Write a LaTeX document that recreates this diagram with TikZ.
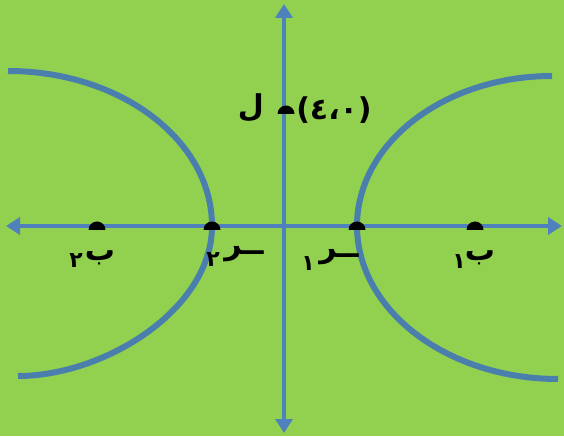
\documentclass[tikz,border=0pt]{standalone}
\usepackage{fontspec}
\newfontfamily\arabicfont[Script=Arabic]{DejaVu Sans}
\TeXXeTstate=1
\usetikzlibrary{arrows.meta,calc}
\definecolor{bggreen}{HTML}{92D050}
\definecolor{axisblue}{HTML}{4F81BD}
\definecolor{curveblue}{HTML}{4A7FAD}
\tikzset{
  axisline/.style={draw=axisblue,line width=4.5pt,-{Triangle[length=14pt,width=17pt]}},
  branch/.style={draw=curveblue,line width=6pt},
  dome/.style={fill=black},
  lbl/.style={font=\arabicfont\bfseries\fontsize{30}{32}\selectfont,text=black,inner sep=0pt},
  sub/.style={font=\arabicfont\bfseries\fontsize{22}{24}\selectfont,text=black,inner sep=0pt}
}
\begin{document}
\begin{tikzpicture}[x=1pt,y=1pt]
\fill[bggreen] (0,0) rectangle (564,436);
\useasboundingbox (0,0) rectangle (564,436);
% axis ends
\coordinate (O) at (284,210);
\coordinate (xl) at (6,210);
\coordinate (xr) at (562,210);
\coordinate (yt) at (284,432);
\coordinate (yb) at (284,3);
% points
\coordinate (F2) at (97,210);
\coordinate (V2) at (212,210);
\coordinate (V1) at (357,210);
\coordinate (F1) at (475,210);
\coordinate (L) at (286,326);
% branch ends
\coordinate (A1) at (8,365);
\coordinate (A2) at (18,60);
\coordinate (A3) at (552,360);
\coordinate (A4) at (558,57);
% axes
\draw[axisline] (O) -- (xl);
\draw[axisline] (O) -- (xr);
\draw[axisline] (O) -- (yt);
\draw[axisline] (O) -- (yb);
% hyperbola branches
\draw[branch] (A1) .. controls (120.7,365) and (212,295.6) .. (V2);
\draw[branch] (V2) .. controls (212,127) and (104.9,60) .. (A2);
\draw[branch] (A3) .. controls (444.3,360) and (357,292.8) .. (V1);
\draw[branch] (V1) .. controls (357,126) and (447,57) .. (A4);
% point markers
\foreach \p in {F2,V2,V1,F1,L}{
  \fill[dome,shift={(\p)}] (-8.5,-4) arc[start angle=180,end angle=0,x radius=8.5,y radius=8.5] -- cycle;
}
% labels
\node[lbl] (lF2) at (100,178) {\beginR ب\endR};
\node[sub] (sF2) at (76,175) {٢};
\node[lbl] (lV2) at (244,182) {\beginR ــر\endR};
\node[sub] (sV2) at (213,176) {٢};
\node[lbl] (lV1) at (339,179) {\beginR ــر\endR};
\node[sub] (sV1) at (308,172) {١};
\node[lbl] (lF1) at (480,178) {\beginR ب\endR};
\node[sub] (sF1) at (459,174) {١};
\node[lbl] (lL) at (251,328) {\beginR ل\endR};
\node[lbl] (lLc) at (334,326) {\beginL(٤،٠)\endL};
\end{tikzpicture}
\end{document}
